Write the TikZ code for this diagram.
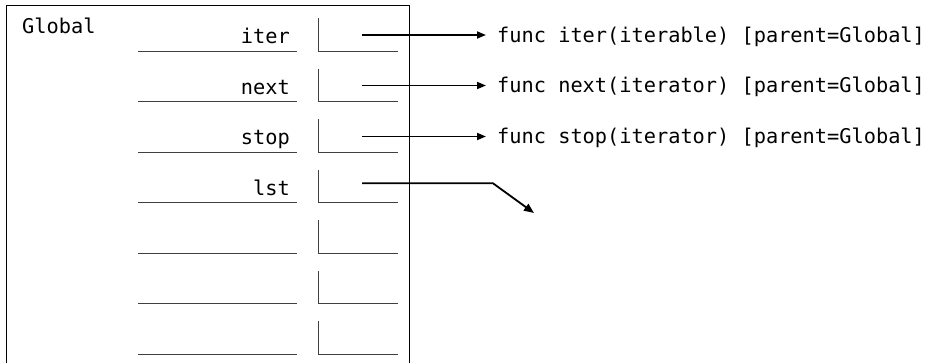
\documentclass[tikz,border=0pt]{standalone}
\usepackage{fontspec}
\newfontfamily\monofont{DejaVu Sans Mono}
\usetikzlibrary{arrows.meta}
\begin{document}
\begin{tikzpicture}[x=1pt,y=-1pt,
  txt/.style={font=\monofont\fontsize{20.3}{24}\selectfont,inner sep=0pt},
  namelbl/.style={txt,anchor=base east},
  funclbl/.style={txt,anchor=base west},
  slotline/.style={line width=1pt,black!75},
  frameline/.style={line width=1pt,black},
  ptr/.style={line width=1.8pt,black,-{Triangle[length=9pt,width=7pt]}},
  ptrhead/.style={line width=1.8pt,black,line join=miter,-{Triangle[length=10pt,width=8pt]}}]
\useasboundingbox (0,0) rectangle (943,362);
\fill[white] (0,0) rectangle (943,362);
% frame
\draw[frameline] (6,363) -- (6,5) -- (409,5) -- (409,363);
\node[txt,anchor=base west] (global) at (22,33) {Global};
% slots
\foreach \i in {0,...,6}{
  \pgfmathsetmacro{\u}{51+50.5*\i}
  \draw[slotline] (138,\u) -- (297,\u);
  \draw[slotline] (318,\u-33) -- (318,\u) -- (398,\u);
}
% names
\node[namelbl] (n0) at (290,43.5) {iter};
\node[namelbl] (n1) at (290,94) {next};
\node[namelbl] (n2) at (290,144.5) {stop};
\node[namelbl] (n3) at (290,195) {lst};
% functions
\node[funclbl] (f0) at (497,42) {func iter(iterable) [parent=Global]};
\node[funclbl] (f1) at (497,92.5) {func next(iterator) [parent=Global]};
\node[funclbl] (f2) at (497,143.5) {func stop(iterator) [parent=Global]};
% pointer starts
\coordinate (s0) at (362,35);
\coordinate (s1) at (362,85.5);
\coordinate (s2) at (362,136.5);
\coordinate (s3) at (362,183.3);
\coordinate (e0) at (486,35);
\coordinate (e1) at (486,85.5);
\coordinate (e2) at (486,136.5);
\coordinate (k3) at (493,183.3);
\coordinate (e3) at (534,213);
\draw[ptr] (s0) -- (e0);
\draw[ptr] (s1) -- (e1);
\draw[ptr] (s2) -- (e2);
\draw[ptrhead] (s3) -- (k3) -- (e3);
\end{tikzpicture}
\end{document}
